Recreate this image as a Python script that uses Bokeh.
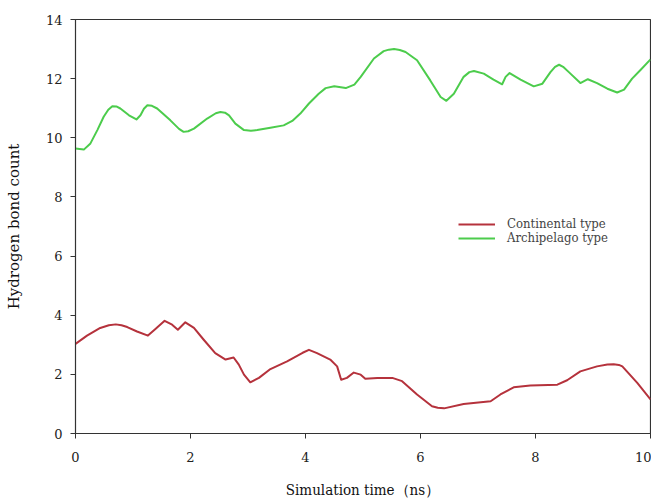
from bokeh.plotting import figure
from bokeh.models import Range1d, FixedTicker, Legend, LegendItem
from bokeh.embed import file_html
from bokeh.resources import INLINE

# Archipelago type (green)
arch_t = [0.0, 0.145, 0.26, 0.38, 0.49, 0.57, 0.64, 0.71, 0.78, 0.93, 1.06, 1.13, 1.19, 1.25, 1.33, 1.42, 1.65, 1.80, 1.88, 1.96, 2.06, 2.29,
          2.44, 2.52, 2.60, 2.67, 2.78, 2.93, 3.05, 3.16, 3.39, 3.62, 3.77, 3.91, 4.06, 4.23, 4.35, 4.5, 4.7, 4.85, 4.96, 5.19,
          5.36, 5.45, 5.54, 5.64, 5.74, 5.94, 6.17, 6.35, 6.45, 6.58, 6.75, 6.85, 6.93, 7.10, 7.27, 7.42, 7.48, 7.55, 7.74, 7.97,
          8.12, 8.26, 8.34, 8.41, 8.48, 8.58, 8.78, 8.91, 9.07, 9.25, 9.42, 9.54, 9.68, 9.83, 10.0]
arch_v = [9.64, 9.60, 9.81, 10.26, 10.71, 10.95, 11.07, 11.06, 10.99, 10.76, 10.62, 10.76, 10.98, 11.10, 11.08, 10.99, 10.59, 10.30, 10.20, 10.22, 10.31, 10.65,
          10.83, 10.87, 10.85, 10.76, 10.48, 10.26, 10.24, 10.26, 10.34, 10.42, 10.57, 10.82, 11.16, 11.49, 11.68, 11.74, 11.68, 11.80, 12.06, 12.68,
          12.93, 12.98, 13.0, 12.97, 12.90, 12.62, 11.94, 11.38, 11.25, 11.49, 12.06, 12.22, 12.26, 12.17, 11.97, 11.81, 12.06, 12.19, 11.97, 11.74,
          11.83, 12.22, 12.40, 12.47, 12.40, 12.22, 11.85, 11.98, 11.85, 11.66, 11.53, 11.63, 12.0, 12.30, 12.65]

# Continental type (red)
cont_t = [0.0, 0.20, 0.43, 0.58, 0.70, 0.80, 0.90, 1.07, 1.26, 1.39, 1.55, 1.68, 1.78, 1.91, 2.06, 2.23, 2.43, 2.61, 2.75, 2.84,
          2.93, 3.04, 3.19, 3.39, 3.68, 3.95, 4.06, 4.20, 4.43, 4.55, 4.62, 4.72, 4.84, 4.96, 5.04, 5.25, 5.51, 5.68, 5.94, 6.20,
          6.30, 6.41, 6.75, 7.22, 7.39, 7.62, 7.91, 8.38, 8.55, 8.78, 9.07, 9.25, 9.36, 9.45, 9.51, 9.77, 10.0]
cont_v = [3.03, 3.31, 3.57, 3.66, 3.69, 3.66, 3.60, 3.45, 3.31, 3.53, 3.81, 3.68, 3.51, 3.76, 3.57, 3.17, 2.72, 2.50, 2.57, 2.33,
          1.99, 1.73, 1.88, 2.18, 2.44, 2.73, 2.83, 2.72, 2.50, 2.27, 1.82, 1.88, 2.06, 1.99, 1.85, 1.88, 1.88, 1.77, 1.32, 0.92,
          0.87, 0.85, 1.00, 1.09, 1.32, 1.56, 1.62, 1.65, 1.80, 2.10, 2.27, 2.33, 2.34, 2.32, 2.27, 1.71, 1.15]

series_names = ["Continental type", "Archipelago type"]
x_ticks = [0, 2, 4, 6, 8, 10]
y_ticks = [0, 2, 4, 6, 8, 10, 12, 14]

RED = "#b5323c"
GREEN = "#4ccc4c"
SERIF = "DejaVu Serif"
SERIF_C = "DejaVu Serif Condensed"

p = figure(width=651, height=501, output_backend="svg", toolbar_location=None,
           x_range=Range1d(0, 10), y_range=Range1d(0, 14),
           min_border_left=75, min_border_right=1, min_border_top=19, min_border_bottom=67)
p.xgrid.visible = False
p.ygrid.visible = False
p.outline_line_color = "#333333"
p.outline_line_width = 1.2
p.background_fill_color = "white"
p.border_fill_color = "white"

for ax in (p.xaxis[0], p.yaxis[0]):
    ax.axis_line_color = "#333333"
    ax.major_tick_line_color = "#333333"
    ax.minor_tick_line_color = None
    ax.major_tick_out = 5
    ax.major_tick_in = 0
    ax.major_label_text_font = SERIF
    ax.major_label_text_font_size = "13px"
    ax.major_label_text_color = "#222222"
    ax.axis_label_text_font_style = "normal"
    ax.axis_label_text_color = "#111111"

p.yaxis.axis_label_text_font = SERIF
p.yaxis.axis_label_text_font_size = "15px"
p.xaxis.axis_label_text_font = SERIF_C
p.xaxis.axis_label_text_font_size = "15px"

p.xaxis.ticker = FixedTicker(ticks=x_ticks)
p.yaxis.ticker = FixedTicker(ticks=y_ticks)
p.xaxis.major_label_standoff = 13
p.yaxis.major_label_standoff = 8
p.xaxis.axis_label = "Simulation time（ns）"
p.yaxis.axis_label = "Hydrogen bond count"
p.xaxis.axis_label_standoff = 16
p.yaxis.axis_label_standoff = 20

r1 = p.line(cont_t, cont_v, line_color=RED, line_width=2, line_join="round")
r2 = p.line(arch_t, arch_v, line_color=GREEN, line_width=2, line_join="round")

for name, rend, ypos in ((series_names[0], r1, 202), (series_names[1], r2, 188)):
    lg = Legend(items=[LegendItem(label=name, renderers=[rend])],
                location=(383, ypos), border_line_color=None, background_fill_alpha=0,
                label_text_font=SERIF_C, label_text_font_size="13px",
                glyph_width=37, glyph_height=12, label_height=12, spacing=0, padding=0,
                label_standoff=12)
    p.add_layout(lg)

open("out.html", "w").write(file_html(p, INLINE))
